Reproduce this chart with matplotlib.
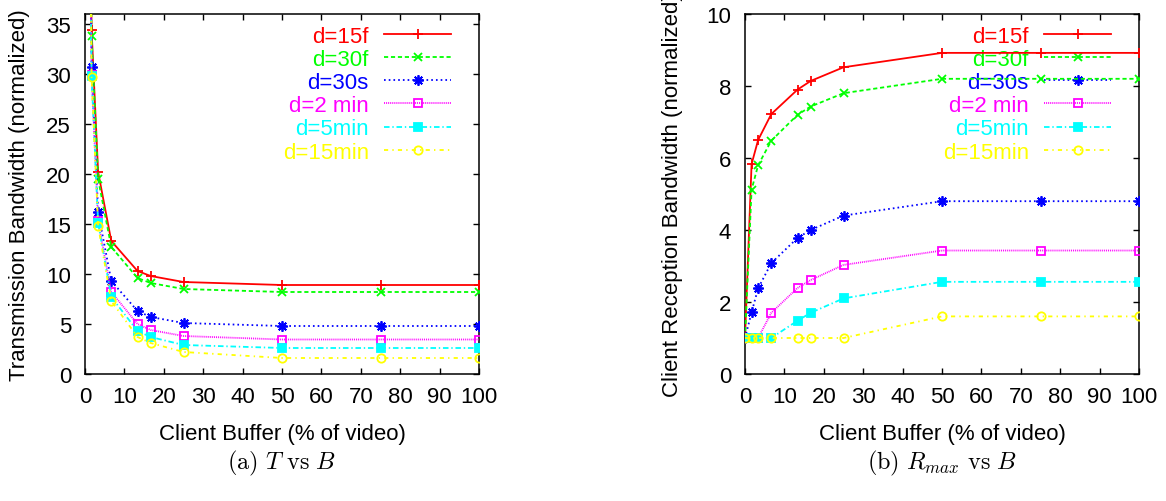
import numpy as np
import matplotlib
matplotlib.use('Agg')
import matplotlib.pyplot as plt

plt.rcParams['font.family'] = ['Liberation Sans', 'DejaVu Sans']
plt.rcParams['mathtext.fontset'] = 'cm'
plt.rcParams['lines.scale_dashes'] = False

# client buffer, % of video length
buffer_pct = [0, 1.67, 3.33, 6.67, 13.33, 16.67, 25, 50, 75, 100]

labels = ['d=15f', 'd=30f', 'd=30s', 'd=2 min', 'd=5min', 'd=15min']

# transmission bandwidth (normalized), first point is off the top of the plot
trans_bw = {
    'd=15f':   [100, 34.4, 20.2, 13.3, 10.3, 9.8, 9.2, 8.9, 8.9, 8.9],
    'd=30f':   [100, 33.8, 19.5, 12.7, 9.6, 9.1, 8.5, 8.2, 8.2, 8.2],
    'd=30s':   [100, 30.7, 16.2, 9.3, 6.3, 5.7, 5.1, 4.8, 4.8, 4.8],
    'd=2 min': [100, 29.9, 15.3, 8.2, 5.0, 4.4, 3.8, 3.45, 3.45, 3.45],
    'd=5min':  [100, 29.8, 15.1, 7.7, 4.3, 3.7, 2.9, 2.6, 2.6, 2.6],
    'd=15min': [100, 29.7, 14.8, 7.3, 3.7, 3.1, 2.2, 1.6, 1.6, 1.6],
}

# client reception bandwidth (normalized)
recv_bw = {
    'd=15f':   [1.0, 5.83, 6.5, 7.22, 7.9, 8.14, 8.52, 8.92, 8.92, 8.92],
    'd=30f':   [1.0, 5.12, 5.8, 6.48, 7.2, 7.43, 7.8, 8.2, 8.2, 8.2],
    'd=30s':   [1.0, 1.71, 2.38, 3.08, 3.78, 4.0, 4.4, 4.8, 4.8, 4.8],
    'd=2 min': [1.0, 1.0, 1.0, 1.7, 2.39, 2.61, 3.03, 3.43, 3.43, 3.43],
    'd=5min':  [1.0, 1.0, 1.0, 1.0, 1.48, 1.7, 2.1, 2.56, 2.56, 2.56],
    'd=15min': [1.0, 1.0, 1.0, 1.0, 1.0, 1.0, 1.0, 1.6, 1.6, 1.6],
}

# gnuplot-like line types
styles = {
    'd=15f':   dict(color='#ff0000', ls='-', marker='+', mfc='#ff0000', ms=7),
    'd=30f':   dict(color='#00ff00', ls=(0, (3, 2)), marker='x', mfc='#00ff00', ms=6),
    'd=30s':   dict(color='#0000ff', ls=(0, (1.2, 2.2)), marker=(8, 2, 0), mfc='#0000ff', ms=7.5),
    'd=2 min': dict(color='#ff00ff', ls=(0, (0.7, 0.7)), marker='s', mfc='none', ms=6),
    'd=5min':  dict(color='#00ffff', ls=(0, (4, 2, 1, 2)), marker='s', mfc='#00ffff', ms=6),
    'd=15min': dict(color='#ffff00', ls=(0, (3, 3, 1, 3)), marker='o', mfc='none', ms=6),
}

fs = 16

fig = plt.figure(figsize=(11.66, 5.02), dpi=100)
ax1 = fig.add_axes([85 / 1166, 127 / 502, 394 / 1166, 360 / 502])
ax2 = fig.add_axes([745 / 1166, 127 / 502, 394 / 1166, 360 / 502])


def draw(ax, data, ymax, yticks, ylabel, ylab_x):
    for name in labels:
        st = styles[name]
        ax.plot(buffer_pct, data[name], color=st['color'], ls=st['ls'], lw=1.3,
                marker=st['marker'], ms=st['ms'], mfc=st['mfc'], mec=st['color'],
                mew=1.3, label=name, zorder=3, clip_on=True)
    ax.set_xlim(0, 100)
    ax.set_ylim(0, ymax)
    ax.set_xticks(np.arange(0, 101, 10))
    ax.set_yticks(yticks)
    ax.tick_params(direction='in', top=True, right=True, length=4.5, width=1,
                   labelsize=fs, pad=9)
    ax.tick_params(axis='y', pad=10)
    for sp in ax.spines.values():
        sp.set_linewidth(1.1)
    ax.set_xlabel('Client Buffer (% of video)', fontsize=fs)
    ax.set_ylabel(ylabel, fontsize=fs)
    ax.xaxis.set_label_coords(0.5, -0.135)
    ax.yaxis.set_label_coords(ylab_x, 0.5)
    leg = ax.legend(loc='upper right', bbox_to_anchor=(0.929, 0.968),
                    frameon=False, markerfirst=False, fontsize=fs,
                    handlelength=3.0, handletextpad=0.7, labelspacing=0.1,
                    borderpad=0, borderaxespad=0, numpoints=1)
    for t, name in zip(leg.get_texts(), labels):
        t.set_color(styles[name]['color'])
    leg.set_zorder(1)


draw(ax1, trans_bw, 36, np.arange(0, 36, 5),
     'Transmission Bandwidth (normalized)', -0.14)
draw(ax2, recv_bw, 10, np.arange(0, 11, 2),
     'Client Reception Bandwidth (normalized)', -0.157)

ax1.text(0.5, -0.245, r'$\mathrm{(a)}\ T\ \mathrm{vs}\ B$', transform=ax1.transAxes,
         ha='center', va='center', fontsize=17.5)
ax2.text(0.5, -0.245, r'$\mathrm{(b)}\ R_{max}\ \mathrm{vs}\ B$', transform=ax2.transAxes,
         ha='center', va='center', fontsize=17.5)

fig.savefig('out.png', dpi=100)
